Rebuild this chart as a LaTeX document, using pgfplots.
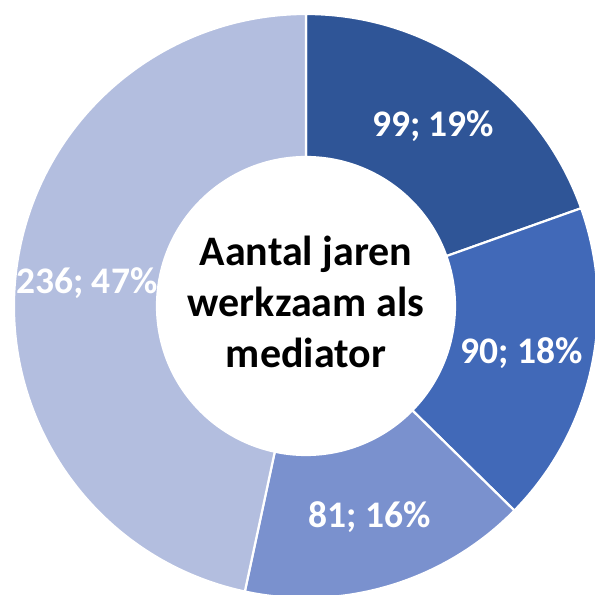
\documentclass[border=0pt]{standalone}
\usepackage{pgfplots}
\usepackage{pgfplotstable}
\pgfplotsset{compat=1.18}
\usepackage{fontspec}
\setmainfont{Carlito}
\definecolor{c1}{HTML}{2F5597}
\definecolor{c2}{HTML}{4169B8}
\definecolor{c3}{HTML}{7A91CE}
\definecolor{c4}{HTML}{B3BEDF}
\pgfplotstableread{
val pct col
99 19 c1
90 18 c2
81 16 c3
236 47 c4
}\slices
\begin{document}
\begin{tikzpicture}
\begin{axis}[x=1pt,y=1pt,xmin=0,xmax=595,ymin=0,ymax=595,hide axis,clip=true]
\coordinate (ll) at (rel axis cs:0,0);
\coordinate (ur) at (rel axis cs:1,1);
\pgfplotsextra{%
  \xdef\total{0}%
  \pgfplotstableforeachcolumnelement{val}\of\slices\as\vv{%
    \pgfmathsetmacro\tmp{\total+\vv}\xdef\total{\tmp}}%
  \xdef\cum{0}%
  \begin{scope}[shift={(axis cs:306,289)}]
  \foreach \i in {0,...,3}{%
    \pgfplotstablegetelem{\i}{val}\of\slices \let\vv\pgfplotsretval
    \pgfplotstablegetelem{\i}{pct}\of\slices \let\pp\pgfplotsretval
    \pgfplotstablegetelem{\i}{col}\of\slices \let\colname\pgfplotsretval
    \pgfmathsetmacro\aS{90-\cum/\total*360}%
    \pgfmathsetmacro\aE{90-(\cum+\vv)/\total*360}%
    \pgfmathsetmacro\aM{(\aS+\aE)/2}%
    \pgfmathsetmacro\newcum{\cum+\vv}\xdef\cum{\newcum}%
    \filldraw[fill=\colname,draw=white,line width=2.2pt,line join=round]
      (\aS:292pt) arc[start angle=\aS,end angle=\aE,radius=292pt]
      -- (\aE:149pt) arc[start angle=\aE,end angle=\aS,radius=149pt] -- cycle;
    \node[text=white,font=\bfseries\fontsize{37.5}{42}\selectfont] at (\aM:220.5pt) {\vv; \pp\%};
  }
  \end{scope}
}
\node[align=center,font=\bfseries\fontsize{42}{51}\selectfont,text=black] at (axis cs:306,293) {Aantal jaren\\werkzaam als\\mediator};
\end{axis}
\pgfresetboundingbox
\useasboundingbox (ll) rectangle (ur);
\end{tikzpicture}
\end{document}
